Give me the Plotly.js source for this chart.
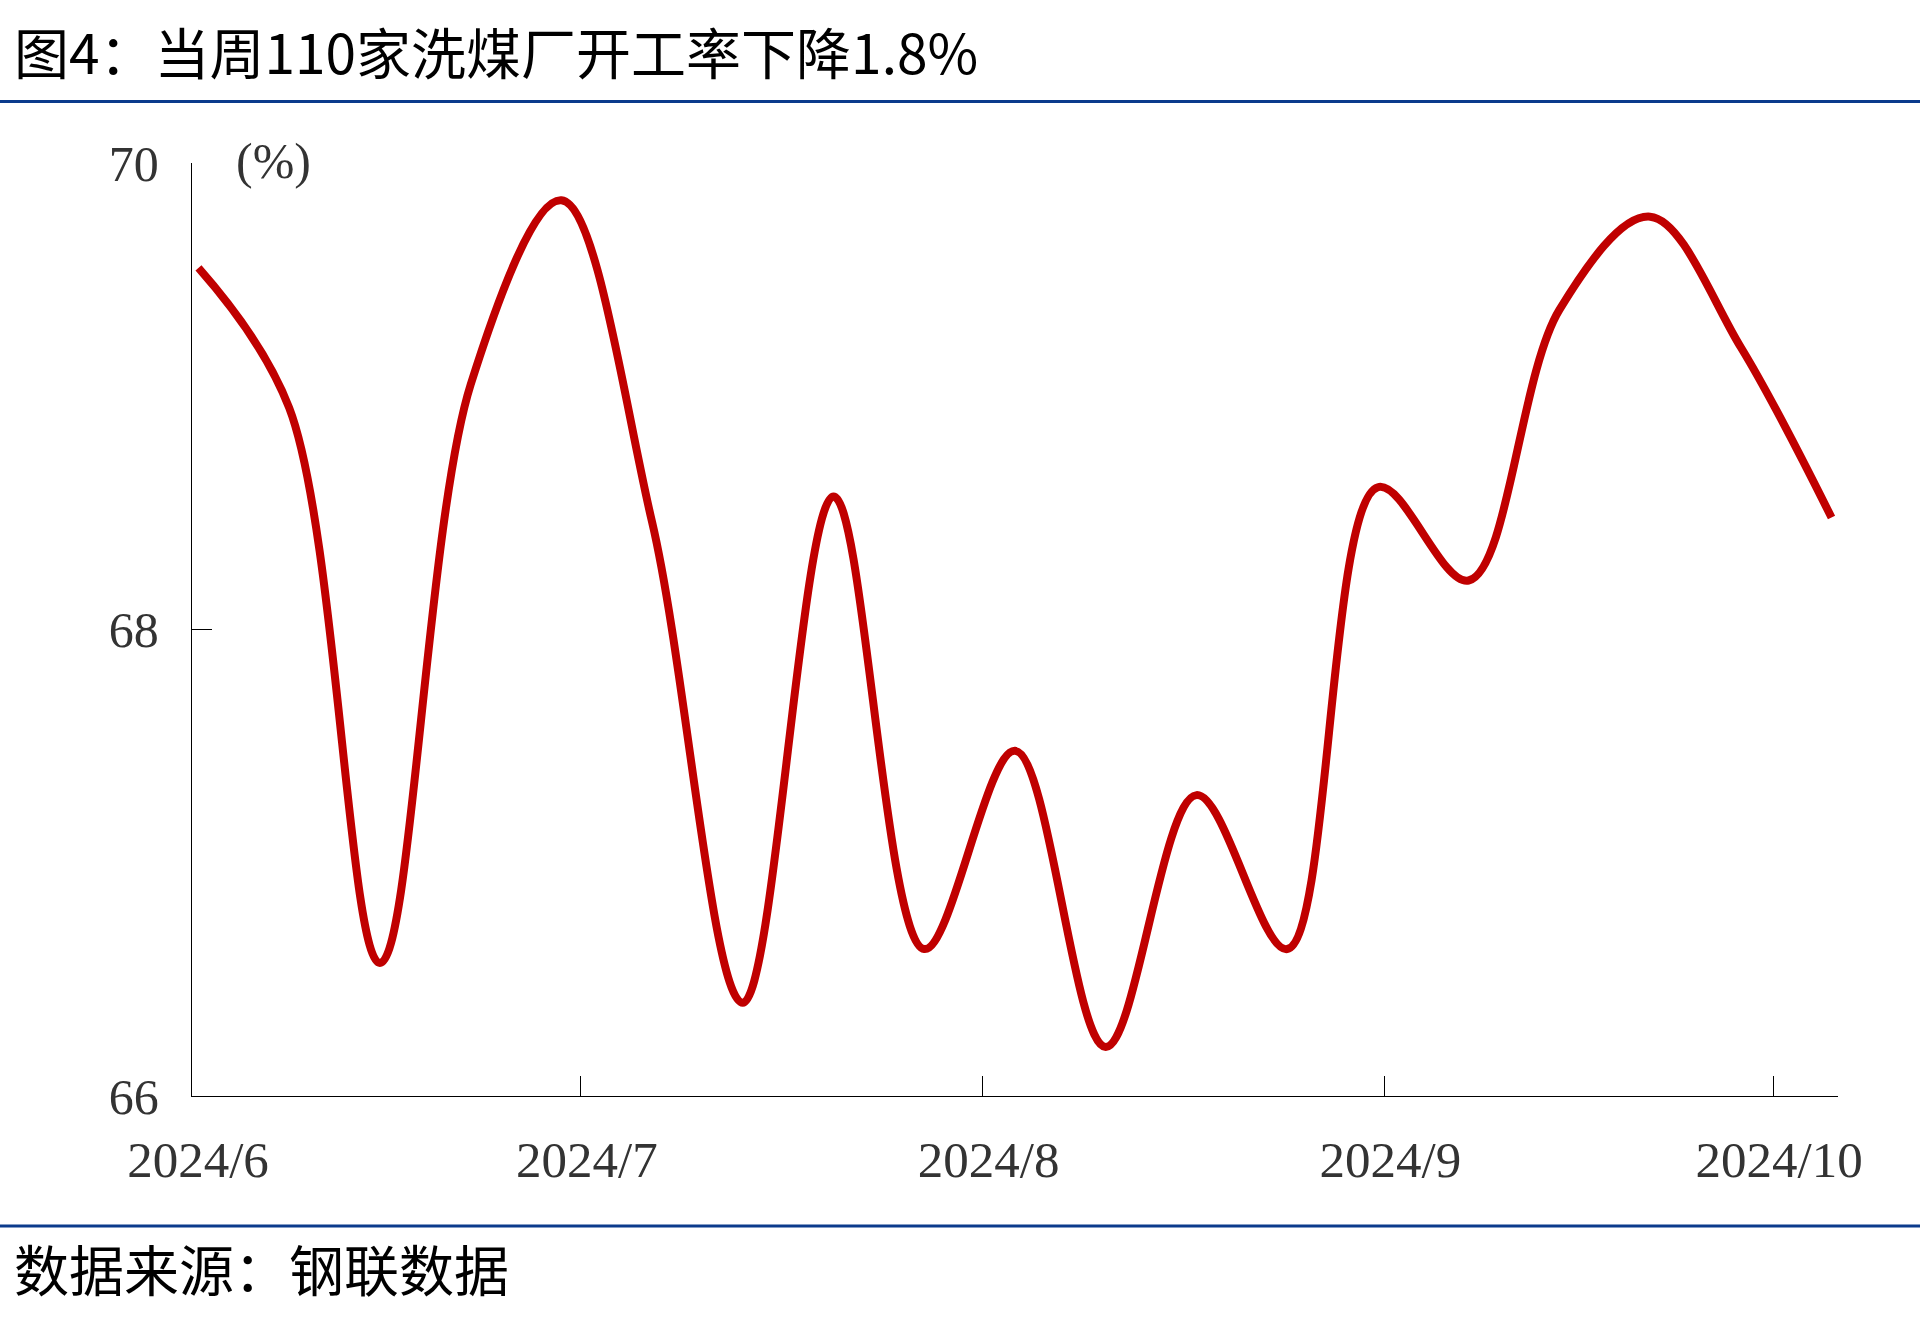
<!DOCTYPE html>
<html>
<head>
<meta charset="utf-8">
<script src="https://cdn.plot.ly/plotly-3.0.1.min.js"></script>
<style>
  html, body { margin: 0; padding: 0; background: #ffffff; }
  #chart { width: 1920px; height: 1331px; }
</style>
</head>
<body>
<div id="chart"></div>
<script>
// ---- data (weekly) ----
const weekDates = [
  '2024-06-01','2024-06-08','2024-06-15','2024-06-22','2024-06-29',
  '2024-07-06','2024-07-13','2024-07-20','2024-07-27',
  '2024-08-03','2024-08-10','2024-08-17','2024-08-24','2024-08-31',
  '2024-09-07','2024-09-14','2024-09-21','2024-09-28','2024-10-05'
];
const utilization = [
  69.55, 68.95, 66.57, 69.05, 69.84,
  68.46, 66.40, 68.57, 66.63,
  67.48, 66.21, 67.29, 66.63, 68.61,
  68.21, 69.37, 69.77, 69.21, 68.48
];
const monthTickVals = ['2024-06-01','2024-07-01','2024-08-01','2024-09-01','2024-10-01'];
const monthTickText = ['2024/6','2024/7','2024/8','2024/9','2024/10'];
const yTickVals = [66, 68, 70];
const titleText = '图4：当周110家洗煤厂开工率下降1.8%';
const sourceText = '数据来源：钢联数据';
const unitText = '(%)';

// ---- layout geometry (pixels) ----
const W = 1920, H = 1331;
const M = { l: 192, r: 82, t: 163, b: 235 };
const plotW = W - M.l - M.r, plotH = H - M.t - M.b;
const px = x => (x - M.l) / plotW;
const py = y => (H - M.b - y) / plotH;

const serif = 'Liberation Serif, Times New Roman, serif';
const cjk = 'Noto Sans CJK SC, sans-serif';
const blue = '#0b3b8c';

const trace = {
  type: 'scatter',
  mode: 'lines',
  x: weekDates.map(d => d + ' 12:00'),
  y: utilization,
  line: { color: '#C00000', width: 8, shape: 'spline', smoothing: 1 },
  hoverinfo: 'skip',
  showlegend: false
};

const layout = {
  width: W, height: H,
  margin: M,
  paper_bgcolor: '#ffffff',
  plot_bgcolor: '#ffffff',
  showlegend: false,
  title: {
    text: titleText,
    xref: 'container', yref: 'container',
    x: 14 / W, xanchor: 'left',
    y: 1 - 55 / H, yanchor: 'middle',
    font: { family: cjk, size: 55, color: '#000000' }
  },
  xaxis: {
    type: 'date',
    range: ['2024-06-01', '2024-10-06'],
    tickmode: 'array',
    tickvals: monthTickVals,
    ticktext: monthTickText,
    ticks: 'inside', ticklen: 20, tickwidth: 1, tickcolor: '#000000',
    showline: true, linecolor: '#000000', linewidth: 1.3,
    showgrid: false, zeroline: false,
    ticklabelstandoff: 18,
    ticklabelshift: 6,
    tickfont: { family: serif, size: 51, color: '#333333' },
    fixedrange: true
  },
  yaxis: {
    range: [66, 70],
    tickmode: 'array',
    tickvals: yTickVals,
    ticktext: yTickVals.map(String),
    ticks: 'inside', ticklen: 20, tickwidth: 1, tickcolor: '#000000',
    showline: true, linecolor: '#000000', linewidth: 1.3,
    showgrid: false, zeroline: false,
    ticklabelstandoff: 22,
    tickfont: { family: serif, size: 50, color: '#333333' },
    fixedrange: true
  },
  shapes: [
    { type: 'line', xref: 'paper', yref: 'paper',
      x0: px(0), x1: px(W), y0: py(101.5), y1: py(101.5),
      line: { color: blue, width: 3 } },
    { type: 'line', xref: 'paper', yref: 'paper',
      x0: px(0), x1: px(W), y0: py(1226), y1: py(1226),
      line: { color: blue, width: 3 } }
  ],
  annotations: [
    { text: unitText, xref: 'paper', yref: 'paper',
      x: px(234), y: py(161), xanchor: 'left', yanchor: 'middle',
      showarrow: false, font: { family: serif, size: 50, color: '#333333' } },
    { text: sourceText, xref: 'paper', yref: 'paper',
      x: px(12), y: py(1267), xanchor: 'left', yanchor: 'middle',
      showarrow: false, font: { family: cjk, size: 55, color: '#000000' } }
  ]
};

Plotly.newPlot('chart', [trace], layout, { staticPlot: true, displayModeBar: false });
</script>
</body>
</html>
